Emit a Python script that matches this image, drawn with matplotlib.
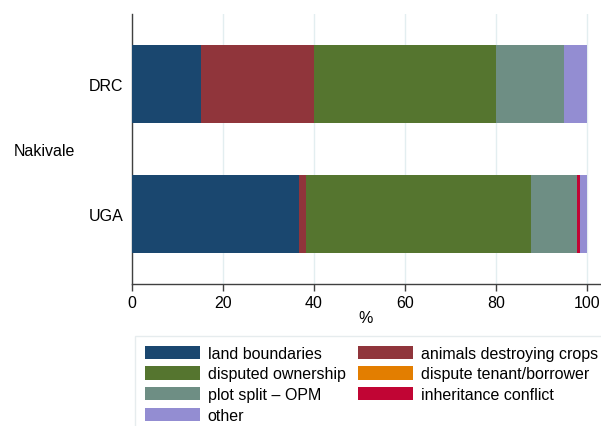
import matplotlib
matplotlib.use("Agg")
import matplotlib.pyplot as plt
from matplotlib.patches import Patch
import numpy as np

plt.rcParams['font.family'] = ['Liberation Sans', 'DejaVu Sans']

groups = ["DRC", "UGA"]
group_label = "Nakivale"
categories = ["land boundaries", "animals destroying crops", "disputed ownership",
              "dispute tenant/borrower", "plot split \u2013 OPM", "inheritance conflict", "other"]
colors = ["#1a476f", "#90353b", "#55752f", "#e37e00", "#6e8e84", "#c10534", "#938dd2"]
values_drc = [15.1, 24.9, 40.0, 0.0, 15.0, 0.0, 5.0]
values_uga = [36.8, 1.4, 49.5, 0.0, 10.2, 0.6, 1.5]
xticks = [0, 20, 40, 60, 80, 100]

fig = plt.figure(figsize=(6.01, 4.27), dpi=100)
ax = fig.add_axes([132/601, 1-285/427, (600-132)/601, (285-15)/427])

ypos = [1, 0]
data = np.array([values_drc, values_uga])
left = np.zeros(len(groups))
for j, cat in enumerate(categories):
    ax.barh(ypos, data[:, j], left=left, height=0.605, color=colors[j], linewidth=0, zorder=3)
    left += data[:, j]

ax.set_xlim(0, 102.9)
ax.set_ylim(-0.538, 1.538)
ax.set_yticks(ypos)
ax.set_yticklabels(groups, fontsize=11.5)
ax.tick_params(axis='y', length=0, pad=6)
ax.set_xticks(xticks)
ax.set_xticklabels([str(t) for t in xticks], fontsize=11.5)
ax.tick_params(axis='x', length=5, width=1, color='#404040', pad=3)
ax.grid(axis='x', color='#e3eef0', linewidth=1, zorder=0)
ax.set_axisbelow(True)
for s in ['top', 'right']:
    ax.spines[s].set_visible(False)
for s in ['left', 'bottom']:
    ax.spines[s].set_color('#404040')
    ax.spines[s].set_linewidth(1)
ax.set_xlabel("%", fontsize=11.5, labelpad=0)

fig.text(14/601, 1-152/427, group_label, fontsize=11.5, ha='left', va='center')

handles = [Patch(facecolor=c, edgecolor='none', label=l) for c, l in zip(colors, categories)]
order = [0, 2, 4, 6, 1, 3, 5]
leg = fig.legend([handles[i] for i in order], [categories[i] for i in order],
                 ncol=2, loc='upper left', bbox_to_anchor=(135/601, 1-337/427),
                 fontsize=11.5, frameon=True, fancybox=False,
                 handlelength=3.45, handleheight=0.9, handletextpad=0.5,
                 columnspacing=0.75, labelspacing=0.35, borderpad=0.6, borderaxespad=0)
leg.get_frame().set_edgecolor('#e0e8ea')
leg.get_frame().set_linewidth(1)

fig.savefig("out.png", dpi=100)
